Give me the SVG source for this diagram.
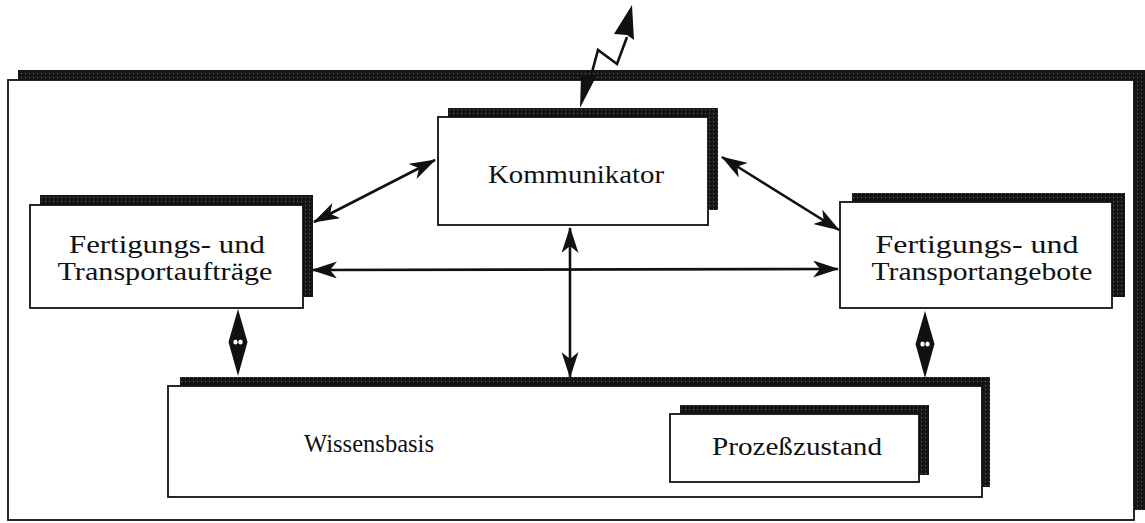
<svg xmlns="http://www.w3.org/2000/svg" width="1145" height="523" viewBox="0 0 1145 523">
<style>
.front{fill:#fff;stroke:#111;stroke-width:1.8}
.shadow{fill:url(#dither)}
.lbl{font-family:"Liberation Serif","DejaVu Serif",serif;font-size:25px;fill:#111;text-anchor:middle}
.conn{stroke:#111;stroke-width:2.6;fill:none}
</style>
<defs>
<pattern id="dither" width="4" height="4" patternUnits="userSpaceOnUse">
<rect width="4" height="4" fill="#151515"/>
<rect x="1" y="1" width="1" height="1" fill="#6a6a6a"/>
</pattern>
<marker id="ah" viewBox="0 0 26 17" refX="25" refY="8.5" markerWidth="26" markerHeight="17" markerUnits="userSpaceOnUse" orient="auto-start-reverse">
<path d="M0,0 L26,8.5 L0,17 L7,8.5 z" fill="#111"/>
</marker>
</defs>

<g id="frame">
<rect class="shadow" x="18" y="70" width="1127" height="440"/>
<rect class="front" x="8" y="80" width="1126" height="440"/>
</g>

<g id="kommunikator">
<rect class="shadow" x="448" y="108" width="270" height="102"/>
<rect class="front" x="438" y="117" width="270" height="108"/>
<text class="lbl" x="576" y="183" textLength="176" lengthAdjust="spacingAndGlyphs">Kommunikator</text>
</g>

<g id="auftraege">
<rect class="shadow" x="40" y="195" width="273" height="102"/>
<rect class="front" x="30" y="205" width="273" height="103"/>
<text class="lbl" x="167" y="253" textLength="196" lengthAdjust="spacingAndGlyphs">Fertigungs- und</text>
<text class="lbl" x="165" y="280" textLength="215" lengthAdjust="spacingAndGlyphs">Transportaufträge</text>
</g>

<g id="angebote">
<rect class="shadow" x="852" y="193" width="273" height="104"/>
<rect class="front" x="840" y="202" width="272" height="106"/>
<text class="lbl" x="977" y="253" textLength="203" lengthAdjust="spacingAndGlyphs">Fertigungs- und</text>
<text class="lbl" x="982" y="280" textLength="221" lengthAdjust="spacingAndGlyphs">Transportangebote</text>
</g>

<g id="wissensbasis">
<rect class="shadow" x="180" y="377" width="810" height="110"/>
<rect class="front" x="168" y="386" width="814" height="111"/>
<text class="lbl" x="369" y="452" textLength="130" lengthAdjust="spacingAndGlyphs">Wissensbasis</text>
</g>

<g id="prozesszustand">
<rect class="shadow" x="680" y="405" width="249" height="70"/>
<rect class="front" x="670" y="414" width="249" height="68"/>
<text class="lbl" x="797" y="455" textLength="170" lengthAdjust="spacingAndGlyphs">Prozeßzustand</text>
</g>

<g id="connectors">
<line class="conn" x1="314" y1="222" x2="435" y2="160" marker-start="url(#ah)" marker-end="url(#ah)"/>
<line class="conn" x1="312" y1="270" x2="838" y2="269" marker-start="url(#ah)" marker-end="url(#ah)"/>
<line class="conn" x1="722" y1="157" x2="839" y2="230" marker-start="url(#ah)" marker-end="url(#ah)"/>
<line class="conn" x1="570" y1="228" x2="570" y2="377" marker-start="url(#ah)" marker-end="url(#ah)"/>
<path d="M238,309 L247.5,342 L238,376 L228.5,342 z" fill="#111"/>
<ellipse cx="235.5" cy="342" rx="2.2" ry="2.6" fill="#fff"/>
<ellipse cx="240.5" cy="342" rx="2.2" ry="2.6" fill="#fff"/>
<path d="M925,311 L934.5,344 L925,378 L915.5,344 z" fill="#111"/>
<ellipse cx="922.5" cy="344" rx="2.2" ry="2.6" fill="#fff"/>
<ellipse cx="927.5" cy="344" rx="2.2" ry="2.6" fill="#fff"/>
<polyline class="conn" points="591,76 598,50 617,64 627,37"/>
<path d="M632,5 L634,40 L627,35 L614,34 z" fill="#111"/>
<path d="M580,108 L581,77 L597,75 z" fill="#111"/>
</g>
</svg>
